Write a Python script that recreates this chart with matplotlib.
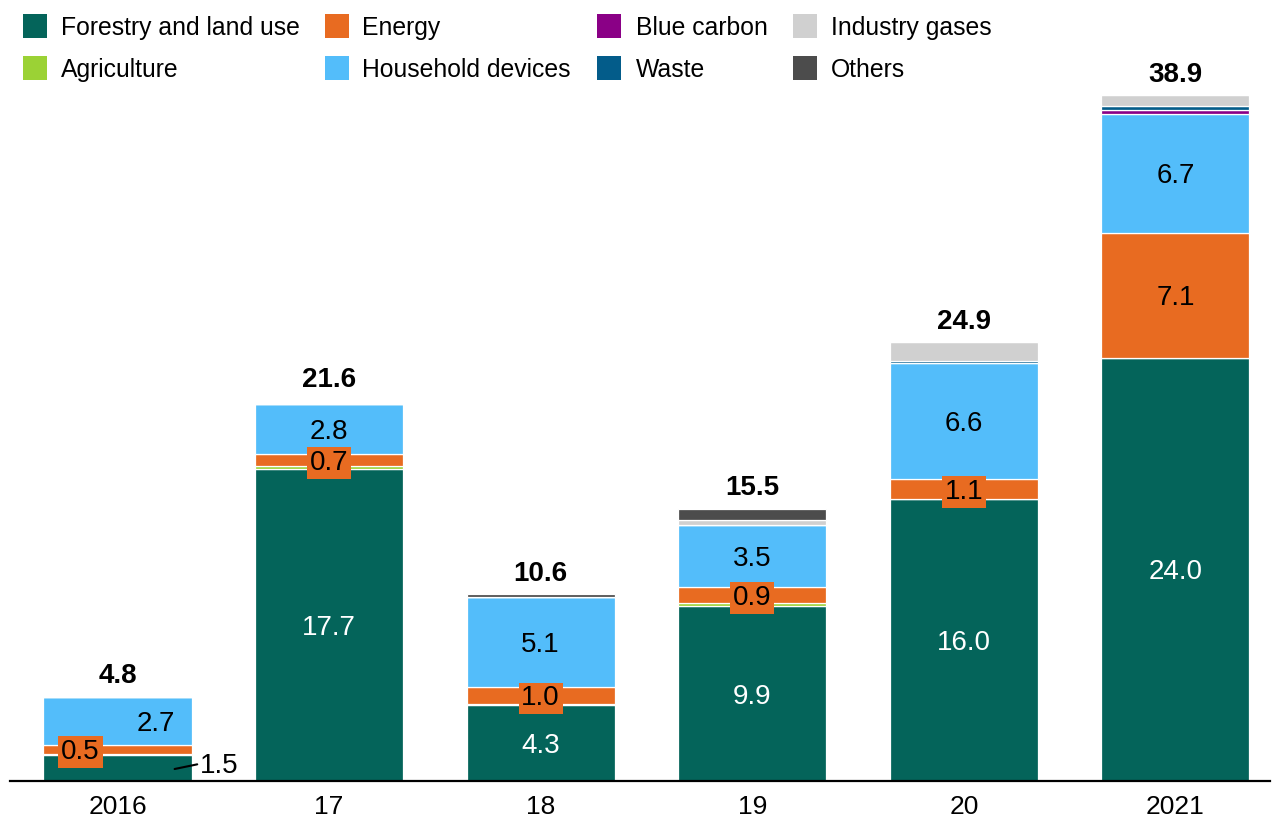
import matplotlib
matplotlib.use("Agg")
import matplotlib.pyplot as plt
from matplotlib.patches import Rectangle
import numpy as np

plt.rcParams["font.family"] = ["Liberation Sans", "DejaVu Sans"]

years = ["2016", "17", "18", "19", "20", "2021"]
forestry = [1.5, 17.7, 4.3, 9.9, 16.0, 24.0]
agriculture = [0.05, 0.15, 0.05, 0.2, 0.0, 0.0]
energy = [0.5, 0.7, 1.0, 0.9, 1.1, 7.1]
household = [2.7, 2.8, 5.1, 3.5, 6.6, 6.7]
blue_carbon = [0.0, 0.0, 0.0, 0.0, 0.0, 0.25]
waste = [0.0, 0.0, 0.0, 0.0, 0.1, 0.25]
industry = [0.0, 0.0, 0.0, 0.3, 1.1, 0.6]
others = [0.0, 0.0, 0.15, 0.6, 0.0, 0.0]
totals = [4.8, 21.6, 10.6, 15.5, 24.9, 38.9]

series = [
    ("Forestry and land use", forestry, "#04645a"),
    ("Agriculture", agriculture, "#9bd235"),
    ("Energy", energy, "#e86b21"),
    ("Household devices", household, "#53bdfa"),
    ("Blue carbon", blue_carbon, "#8a0086"),
    ("Waste", waste, "#035c8a"),
    ("Industry gases", industry, "#d0d0d0"),
    ("Others", others, "#4c4c4c"),
]

W, H = 1277, 819
fig = plt.figure(figsize=(W / 100, H / 100), dpi=100)
ax = fig.add_axes([10 / W, 38 / H, 1260 / W, 705.4 / H])

x = np.arange(len(years))
bottom = np.zeros(len(years))
for name, vals, col in series:
    ax.bar(x, vals, width=0.70, bottom=bottom, color=col,
           edgecolor="white", linewidth=0.9)
    bottom += np.array(vals)

ax.set_xlim(-0.508, 5.447)
ax.set_ylim(0, 40)
for s in ["left", "right", "top"]:
    ax.spines[s].set_visible(False)
ax.spines["bottom"].set_linewidth(1.6)
ax.spines["bottom"].set_color("black")
ax.set_yticks([])
ax.set_xticks(x)
ax.set_xticklabels(years, fontsize=19)
ax.tick_params(axis="x", length=0, pad=10)

fs = 20
va = "center_baseline"
# forestry labels
for i in range(len(years)):
    if i == 0:
        ax.annotate(f"{forestry[i]:.1f}", xy=(0.27, 0.68), xytext=(0.39, 1.0),
                    fontsize=fs, va=va, ha="left", color="black",
                    arrowprops=dict(arrowstyle="-", color="black", lw=1.5,
                                    shrinkA=0, shrinkB=0, relpos=(0, 0.6)))
    else:
        ax.text(x[i], forestry[i] / 2, f"{forestry[i]:.1f}", ha="center",
                va=va, fontsize=fs, color="white")

# energy labels
for i in range(len(years)):
    yc = forestry[i] + agriculture[i] + energy[i] / 2
    if i == 5:
        ax.text(x[i], yc, f"{energy[i]:.1f}", ha="center", va=va,
                fontsize=fs, color="black")
    else:
        xc = x[i] - 0.175 if i == 0 else x[i]
        ax.text(xc, yc, f"{energy[i]:.1f}", ha="center", va=va,
                fontsize=fs, color="black",
                bbox=dict(boxstyle="square,pad=0.1", fc="#e86b21", ec="none"))

# household labels
for i in range(len(years)):
    yc = forestry[i] + agriculture[i] + energy[i] + household[i] / 2
    xc = x[i] + 0.18 if i == 0 else x[i]
    ax.text(xc, yc, f"{household[i]:.1f}", ha="center", va=va,
            fontsize=fs, color="black")

# totals
for i in range(len(years)):
    ax.annotate(f"{totals[i]:.1f}", xy=(x[i], totals[i]), xytext=(0, 5),
                textcoords="offset points", ha="center", va="bottom",
                fontsize=fs, fontweight="bold", color="black")

# legend, laid out by hand
sq_x = [23, 325, 597, 793]
tx_x = [61, 362, 636, 831]
rows = [14, 56]
for k, (name, vals, col) in enumerate(series):
    c, r = k // 2, k % 2
    fig.add_artist(Rectangle((sq_x[c] / W, 1 - (rows[r] + 23.5) / H),
                             23.5 / W, 23.5 / H, transform=fig.transFigure,
                             fc=col, ec="none"))
    fig.text(tx_x[c] / W, 1 - (rows[r] + 14) / H, name, fontsize=17.8,
             ha="left", va="center", color="black")

fig.savefig("out.png", dpi=100)
